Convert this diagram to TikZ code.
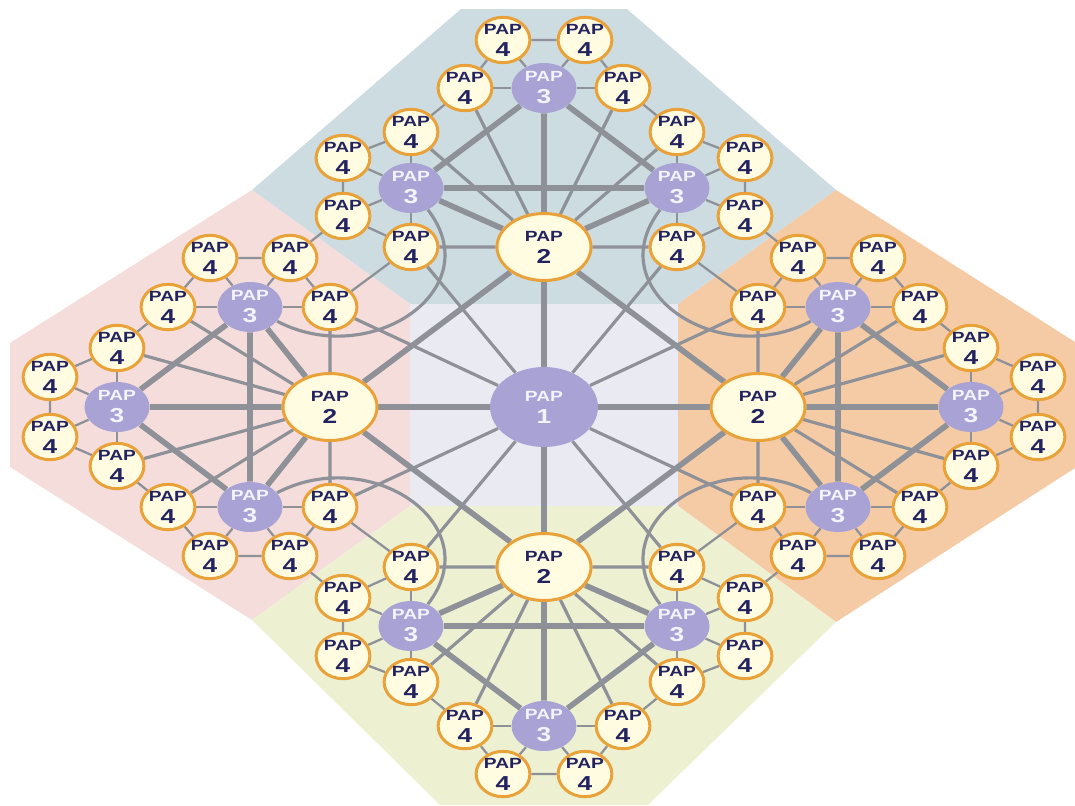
\documentclass[tikz,border=0pt]{standalone}
\usepackage{fontspec}
\usepackage{tikz}
\usetikzlibrary{shapes.geometric}
\newfontfamily\papfont{Liberation Sans}[FakeStretch=1.3]

\definecolor{linkgray}{HTML}{8E9198}
\definecolor{ringorange}{HTML}{E9A23A}
\definecolor{papin}{HTML}{FFFCE2}
\definecolor{papout}{HTML}{FFE98C}
\definecolor{lavender}{HTML}{A8A2D5}
\definecolor{lavtext}{HTML}{F4F2FC}
\definecolor{navy}{HTML}{23235F}
\definecolor{zonetop}{HTML}{CCDCE1}
\definecolor{zoneleft}{HTML}{F5DDDB}
\definecolor{zoneright}{HTML}{F5CBA6}
\definecolor{zonebottom}{HTML}{EDF1D2}
\definecolor{zonecore}{HTML}{EAEAF2}

\pgfdeclareradialshading{papglow}{\pgfpoint{0bp}{0bp}}{color(0bp)=(papin); color(22bp)=(papin); color(50bp)=(papout)}
\pgfdeclarelayer{zones}
\pgfdeclarelayer{links}
\pgfsetlayers{zones,links,main}

\newcommand{\pap}[1]{PAP\\{\fontsize{11.5}{12.5}\selectfont #1}}

\begin{document}
\begin{tikzpicture}[
      x=0.02cm, y=-0.02cm,
      font=\papfont\bfseries\fontsize{8.4}{12.5}\selectfont,
      leaf/.style={ellipse, align=center, inner sep=0pt, draw=ringorange, line width=1.7pt, shading=papglow, minimum width=1.06cm, minimum height=0.86cm, text=navy},
      mid/.style={leaf, minimum width=1.88cm, minimum height=1.34cm},
      hub/.style={ellipse, align=center, inner sep=0pt, fill=lavender, minimum width=1.3cm, minimum height=1cm, text=lavtext},
      root/.style={hub, minimum width=2.16cm, minimum height=1.6cm},
      trunk/.style={draw=linkgray, line width=3.2pt},
      spoke/.style={draw=linkgray, line width=1.8pt},
      twig/.style={draw=linkgray, line width=1.3pt}
    ]
    \useasboundingbox (0,0) rectangle (1075,805);

    \node[root] (p1) at (544,407) {\pap{1}};
    \node[mid] (t2) at (544,247) {\pap{2}};
    \node[mid] (l2) at (330,407) {\pap{2}};
    \node[mid] (r2) at (758,407) {\pap{2}};
    \node[mid] (b2) at (544,567) {\pap{2}};

    \node[hub] (tu) at (544,88) {\pap{3}};
    \node[hub] (ta) at (411,188) {\pap{3}};
    \node[hub] (tb) at (677,188) {\pap{3}};
    \node[hub] (lu) at (117,407) {\pap{3}};
    \node[hub] (la) at (250,307) {\pap{3}};
    \node[hub] (lb) at (250,507) {\pap{3}};
    \node[hub] (ru) at (971,407) {\pap{3}};
    \node[hub] (ra) at (838,307) {\pap{3}};
    \node[hub] (rb) at (838,507) {\pap{3}};
    \node[hub] (bu) at (544,726) {\pap{3}};
    \node[hub] (ba) at (411,626) {\pap{3}};
    \node[hub] (bb) at (677,626) {\pap{3}};

    \node[leaf] (tu1) at (465,88) {\pap{4}};
    \node[leaf] (tu2) at (503,40) {\pap{4}};
    \node[leaf] (tu3) at (585,40) {\pap{4}};
    \node[leaf] (tu4) at (623,88) {\pap{4}};
    \node[leaf] (ta1) at (411,132) {\pap{4}};
    \node[leaf] (ta2) at (343,158) {\pap{4}};
    \node[leaf] (ta3) at (343,216) {\pap{4}};
    \node[leaf] (ta4) at (411,247) {\pap{4}};
    \node[leaf] (tb1) at (677,132) {\pap{4}};
    \node[leaf] (tb2) at (745,158) {\pap{4}};
    \node[leaf] (tb3) at (745,216) {\pap{4}};
    \node[leaf] (tb4) at (677,247) {\pap{4}};

    \node[leaf] (lu1) at (117,348) {\pap{4}};
    \node[leaf] (lu2) at (50,377) {\pap{4}};
    \node[leaf] (lu3) at (50,437) {\pap{4}};
    \node[leaf] (lu4) at (117,466) {\pap{4}};
    \node[leaf] (la1) at (168,307) {\pap{4}};
    \node[leaf] (la2) at (210,258) {\pap{4}};
    \node[leaf] (la3) at (290,258) {\pap{4}};
    \node[leaf] (la4) at (330,307) {\pap{4}};
    \node[leaf] (lb1) at (168,507) {\pap{4}};
    \node[leaf] (lb2) at (210,556) {\pap{4}};
    \node[leaf] (lb3) at (290,556) {\pap{4}};
    \node[leaf] (lb4) at (330,507) {\pap{4}};

    \node[leaf] (ru1) at (971,348) {\pap{4}};
    \node[leaf] (ru2) at (1038,377) {\pap{4}};
    \node[leaf] (ru3) at (1038,437) {\pap{4}};
    \node[leaf] (ru4) at (971,466) {\pap{4}};
    \node[leaf] (ra1) at (920,307) {\pap{4}};
    \node[leaf] (ra2) at (878,258) {\pap{4}};
    \node[leaf] (ra3) at (798,258) {\pap{4}};
    \node[leaf] (ra4) at (758,307) {\pap{4}};
    \node[leaf] (rb1) at (920,507) {\pap{4}};
    \node[leaf] (rb2) at (878,556) {\pap{4}};
    \node[leaf] (rb3) at (798,556) {\pap{4}};
    \node[leaf] (rb4) at (758,507) {\pap{4}};

    \node[leaf] (bu1) at (465,726) {\pap{4}};
    \node[leaf] (bu2) at (503,774) {\pap{4}};
    \node[leaf] (bu3) at (585,774) {\pap{4}};
    \node[leaf] (bu4) at (623,726) {\pap{4}};
    \node[leaf] (ba1) at (411,682) {\pap{4}};
    \node[leaf] (ba2) at (343,656) {\pap{4}};
    \node[leaf] (ba3) at (343,598) {\pap{4}};
    \node[leaf] (ba4) at (411,567) {\pap{4}};
    \node[leaf] (bb1) at (677,682) {\pap{4}};
    \node[leaf] (bb2) at (745,656) {\pap{4}};
    \node[leaf] (bb3) at (745,598) {\pap{4}};
    \node[leaf] (bb4) at (677,567) {\pap{4}};

    \begin{pgfonlayer}{zones}
      \fill[zonetop] (461,9) -- (627,9) -- (836,190) -- (678,304) -- (410,304) -- (252,190) -- cycle;
      \fill[zoneleft] (252,190) -- (410,304) -- (410,506) -- (252,620) -- (10,467) -- (10,343) -- cycle;
      \fill[zoneright] (836,190) -- (1075,342) -- (1075,468) -- (836,622) -- (678,506) -- (678,304) -- cycle;
      \fill[zonebottom] (252,620) -- (410,506) -- (678,506) -- (836,622) -- (648,805) -- (440,805) -- cycle;
      \fill[zonecore] (410,304) rectangle (678,506);
    \end{pgfonlayer}

    \begin{pgfonlayer}{links}
      \foreach \a/\b in {p1/t2,p1/l2,p1/r2,p1/b2,t2/l2,t2/r2,b2/l2,b2/r2}
        \draw[trunk] (\a) -- (\b);
      \foreach \k in {t,l,r,b} {
        \draw[trunk] (\k2) -- (\k u) (\k2) -- (\k a) (\k2) -- (\k b)
                     (\k u) -- (\k a) (\k u) -- (\k b) (\k a) -- (\k b);
        \draw[spoke] (p1) -- (\k a4) (p1) -- (\k b4);
        \draw[spoke] (\k2) -- (\k a4) (\k2) -- (\k b4) (\k2) -- (\k a1)
                     (\k2) -- (\k b1) (\k2) -- (\k u1) (\k2) -- (\k u4);
        \draw[twig] (\k u1) -- (\k a1) (\k u4) -- (\k b1);
        \foreach \g in {u,a,b} {
          \draw[twig] (\k\g1) -- (\k\g2) (\k\g2) -- (\k\g3) (\k\g3) -- (\k\g4);
          \foreach \i in {1,...,4}
            \draw[twig] (\k\g) -- (\k\g\i);
        }
      }
      \foreach \a/\b in {ta3/la3,ta4/la4,tb3/ra3,tb4/ra4,ba3/lb3,ba4/lb4,bb3/rb3,bb4/rb4}
        \draw[twig] (\a) -- (\b);
      \draw[spoke] (ta) .. controls +(79,102) and +(120,63) .. (la);
      \draw[spoke] (tb) .. controls +(-79,102) and +(-120,63) .. (ra);
      \draw[spoke] (ba) .. controls +(79,-102) and +(120,-63) .. (lb);
      \draw[spoke] (bb) .. controls +(-79,-102) and +(-120,-63) .. (rb);
    \end{pgfonlayer}
  \end{tikzpicture}
\end{document}
